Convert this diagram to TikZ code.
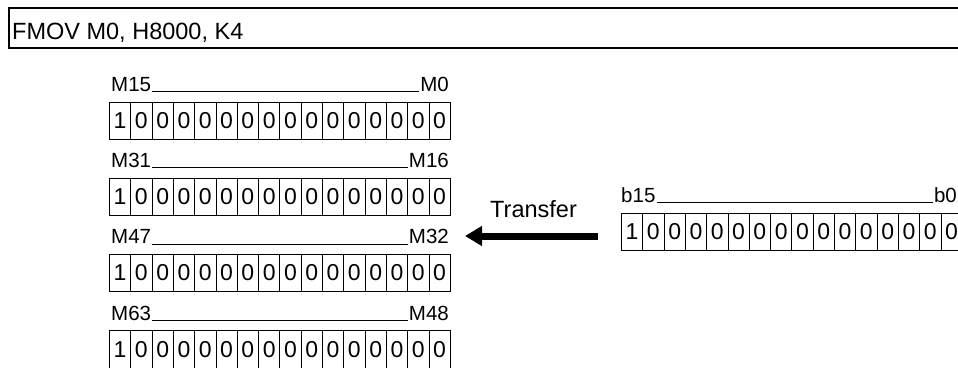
\documentclass[tikz,border=0pt]{standalone}
\usepackage{fontspec}
\setmainfont{Liberation Sans}
\usetikzlibrary{arrows.meta}
\begin{document}
\begin{tikzpicture}[x=1pt,y=-1pt,
  cell/.style={draw, line width=0.8pt, minimum width=21.3pt, minimum height=37.5pt,
    inner sep=0pt, font=\fontsize{23}{23}\selectfont, anchor=north west},
  lbl/.style={inner sep=1pt, font=\fontsize{20.5}{20.5}\selectfont},
  big/.style={inner sep=1pt, font=\fontsize{23.5}{23.5}\selectfont},
  uline/.style={line width=0.8pt},
  bigarrow/.style={line width=7pt, -{Triangle[length=17pt,width=19pt]}}]
\useasboundingbox (0,0) rectangle (958,367);
\clip (0,0) rectangle (958,367);
% command box
\draw[line width=2pt] (975,7.5) -- (9,7.5) -- (9,48) -- (975,48);
\node[big, anchor=base west] (cmd) at (11,39.5) {FMOV M0, H8000, K4};
% left rows
\foreach \hi/\lo [count=\i from 0] in {M15/M0, M31/M16, M47/M32, M63/M48} {
  \pgfmathsetmacro\ty{101.5+76.2*\i}
  \foreach \c in {0,...,15} {
    \pgfmathtruncatemacro\dig{\c==0 ? 1 : 0}
    \node[cell] (r\i c\c) at ({109+21.3*\c},\ty) {\dig};
  }
  \node[lbl, anchor=base west] (h\i) at (110,\ty-10) {\hi};
  \node[lbl, anchor=base east] (l\i) at (450,\ty-10) {\lo};
  \draw[uline] (h\i.base east) -- (l\i.base west);
}
% right row
\foreach \c in {0,...,15} {
  \pgfmathtruncatemacro\dig{\c==0 ? 1 : 0}
  \node[cell] (s\c) at ({621+21.3*\c},212.7) {\dig};
}
\node[lbl, anchor=base west] (bh) at (620,202.7) {b15};
\node[lbl, anchor=base east] (bl) at (958,202.7) {b0};
\draw[uline] (bh.base east) -- (bl.base west);
% transfer arrow
\coordinate (atail) at (598,236);
\coordinate (ahead) at (465,236);
\draw[bigarrow] (atail) -- (ahead);
\node[big, anchor=base west] (tr) at (489,217) {Transfer};
\end{tikzpicture}
\end{document}
